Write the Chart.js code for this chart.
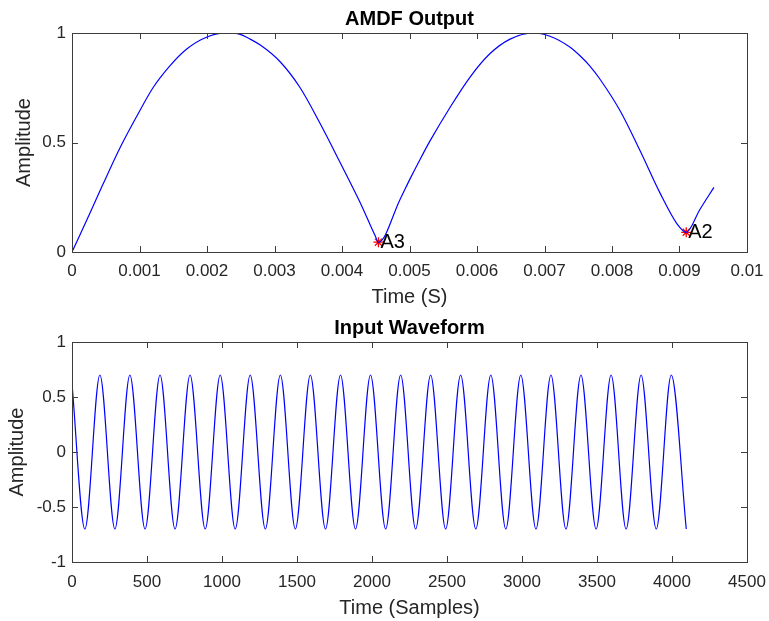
<!DOCTYPE html>
<html>
<head>
<meta charset="utf-8">
<script src="https://cdn.jsdelivr.net/npm/chart.js@4.4.0/dist/chart.umd.min.js"></script>
<style>
  body { margin: 0; background: #fff; }
  .panel { position: absolute; left: 0; width: 769px; }
  #top { top: 0; height: 310px; }
  #bottom { top: 310px; height: 311px; }
</style>
</head>
<body>
<div class="panel" id="top"><canvas id="amdfChart"></canvas></div>
<div class="panel" id="bottom"><canvas id="waveChart"></canvas></div>
<script>
// AMDF output (time in s, normalised amplitude)
const amdfTime = [0, 0.00027, 0.00046, 0.00071, 0.00096, 0.0012, 0.00145, 0.0017, 0.002, 0.00229,
  0.00249, 0.00264, 0.00279, 0.00308, 0.00338, 0.00367, 0.00397, 0.00427, 0.00449, 0.00454,
  0.00486, 0.00501, 0.00516, 0.0053, 0.0056, 0.0059, 0.00619, 0.00649, 0.00683, 0.00708,
  0.00738, 0.00753, 0.00767, 0.00782, 0.00812, 0.00842, 0.00871, 0.00896, 0.0091, 0.0093, 0.00951];
const amdfValue = [0, 0.18, 0.31, 0.475, 0.62, 0.75, 0.85, 0.927, 0.982, 1.0,
  0.994, 0.972, 0.945, 0.87, 0.75, 0.59, 0.41, 0.225, 0.075, 0.045,
  0.24, 0.335, 0.425, 0.505, 0.66, 0.8, 0.905, 0.972, 1.0, 0.985,
  0.935, 0.895, 0.85, 0.79, 0.645, 0.46, 0.27, 0.13, 0.09, 0.193, 0.295];

// detected minima and their note names
const noteTime = [0.00454, 0.0091];
const noteValue = [0.045, 0.09];
const noteLabels = ["A3", "A2"];

const amdfXTicks = [0, 0.001, 0.002, 0.003, 0.004, 0.005, 0.006, 0.007, 0.008, 0.009, 0.01];
const amdfYTicks = [0, 0.5, 1];

// input waveform: start point and turning points (sample index, amplitude)
const waveSample = [0, 86, 186, 286, 386, 487, 587, 687, 787, 888, 988, 1088, 1188, 1289, 1389,
  1489, 1589, 1690, 1790, 1890, 1990, 2091, 2191, 2291, 2391, 2491, 2591, 2692, 2792, 2892, 2992,
  3093, 3193, 3293, 3393, 3494, 3594, 3694, 3794, 3895, 3995, 4095];
const waveValue = [0.62, -0.7, 0.7, -0.7, 0.7, -0.7, 0.7, -0.7, 0.7, -0.7, 0.7, -0.7, 0.7, -0.7, 0.7,
  -0.7, 0.7, -0.7, 0.7, -0.7, 0.7, -0.7, 0.7, -0.7, 0.7, -0.7, 0.7, -0.7, 0.7, -0.7, 0.7,
  -0.7, 0.7, -0.7, 0.7, -0.7, 0.7, -0.7, 0.7, -0.7, 0.7, -0.7];

const waveXTicks = [0, 500, 1000, 1500, 2000, 2500, 3000, 3500, 4000, 4500];
const waveYTicks = [-1, -0.5, 0, 0.5, 1];

const FONT = "'Liberation Sans', Arial, Helvetica, sans-serif";
Chart.defaults.font.family = FONT;
Chart.defaults.color = "#262626";

// MATLAB-style box with inward tick marks on all four sides
const axesBox = {
  id: "axesBox",
  afterDraw(chart) {
    const { ctx, chartArea: a, scales: { x, y } } = chart;
    const len = 6;
    ctx.save();
    ctx.strokeStyle = "#3c3c3c";
    ctx.lineWidth = 1;
    ctx.beginPath();
    x.ticks.forEach(t => {
      const px = Math.round(x.getPixelForValue(t.value)) + 0.5;
      ctx.moveTo(px, a.bottom); ctx.lineTo(px, a.bottom - len);
      ctx.moveTo(px, a.top); ctx.lineTo(px, a.top + len);
    });
    y.ticks.forEach(t => {
      const py = Math.round(y.getPixelForValue(t.value)) + 0.5;
      ctx.moveTo(a.left, py); ctx.lineTo(a.left + len, py);
      ctx.moveTo(a.right, py); ctx.lineTo(a.right - len, py);
    });
    ctx.stroke();
    ctx.strokeRect(Math.round(a.left) + 0.5, Math.round(a.top) + 0.5,
      Math.round(a.width), Math.round(a.height));
    ctx.restore();
  }
};

// note names written next to the minima
const noteText = {
  id: "noteText",
  afterDatasetsDraw(chart) {
    const { ctx, scales: { x, y } } = chart;
    ctx.save();
    ctx.font = "20px " + FONT;
    ctx.fillStyle = "#000";
    ctx.textBaseline = "middle";
    noteLabels.forEach((txt, i) => {
      ctx.fillText(txt, x.getPixelForValue(noteTime[i]) + 2, y.getPixelForValue(noteValue[i]));
    });
    ctx.restore();
  }
};

function axisOptions(min, max, tickValues, fitSize, isX, titleText, tickPad, titlePad) {
  return {
    type: "linear",
    min: min,
    max: max,
    afterBuildTicks: s => { s.ticks = tickValues.map(v => ({ value: v })); },
    afterFit: s => {
      if (isX) {
        s.height = fitSize;
        s.paddingLeft = 0;
        s.paddingRight = 0;
      } else {
        s.width = fitSize;
      }
    },
    grid: { display: false, drawTicks: false },
    border: { display: false },
    ticks: { autoSkip: false, maxRotation: 0, padding: tickPad, font: { size: 17 }, callback: v => String(v) },
    title: { display: true, text: titleText, color: "#262626", font: { size: 20 }, padding: titlePad }
  };
}

function baseOptions(title, titlePad, xAxis, yAxis) {
  return {
    responsive: true,
    maintainAspectRatio: false,
    animation: false,
    events: [],
    layout: { padding: { left: 0, right: 22, top: 0, bottom: 0 } },
    plugins: {
      legend: { display: false },
      tooltip: { enabled: false },
      title: {
        display: true, text: title, fullSize: false, color: "#000",
        font: { size: 20, weight: "bold" }, padding: titlePad
      }
    },
    scales: { x: xAxis, y: yAxis }
  };
}

new Chart(document.getElementById("amdfChart").getContext("2d"), {
  type: "line",
  data: {
    datasets: [{
      data: amdfTime.map((t, i) => ({ x: t, y: amdfValue[i] })),
      borderColor: "#0000ff",
      borderWidth: 1.2,
      pointRadius: 0,
      fill: false,
      cubicInterpolationMode: "monotone"
    }, {
      data: noteTime.map((t, i) => ({ x: t, y: noteValue[i] })),
      showLine: false,
      pointStyle: "star",
      pointRadius: 5,
      borderColor: "#ff0000",
      borderWidth: 1.3
    }]
  },
  options: baseOptions("AMDF Output", { top: 7, bottom: 2 },
    axisOptions(0, 0.01, amdfXTicks, 58, true, "Time (S)", 9, { top: 0, bottom: 0.5 }),
    axisOptions(0, 1, amdfYTicks, 72, false, "Amplitude", 6, { top: 12, bottom: 0 })),
  plugins: [axesBox, noteText]
});

new Chart(document.getElementById("waveChart").getContext("2d"), {
  type: "line",
  data: {
    datasets: [{
      data: waveSample.map((s, i) => ({ x: s, y: waveValue[i] })),
      borderColor: "#0000ff",
      borderWidth: 1.2,
      pointRadius: 0,
      fill: false,
      cubicInterpolationMode: "monotone"
    }]
  },
  options: baseOptions("Input Waveform", { top: 6.5, bottom: 1.5 },
    axisOptions(0, 4500, waveXTicks, 59, true, "Time (Samples)", 10, { top: 0, bottom: 1 }),
    axisOptions(-1, 1, waveYTicks, 72, false, "Amplitude", 6, { top: 5, bottom: 0 })),
  plugins: [axesBox]
});
</script>
</body>
</html>
